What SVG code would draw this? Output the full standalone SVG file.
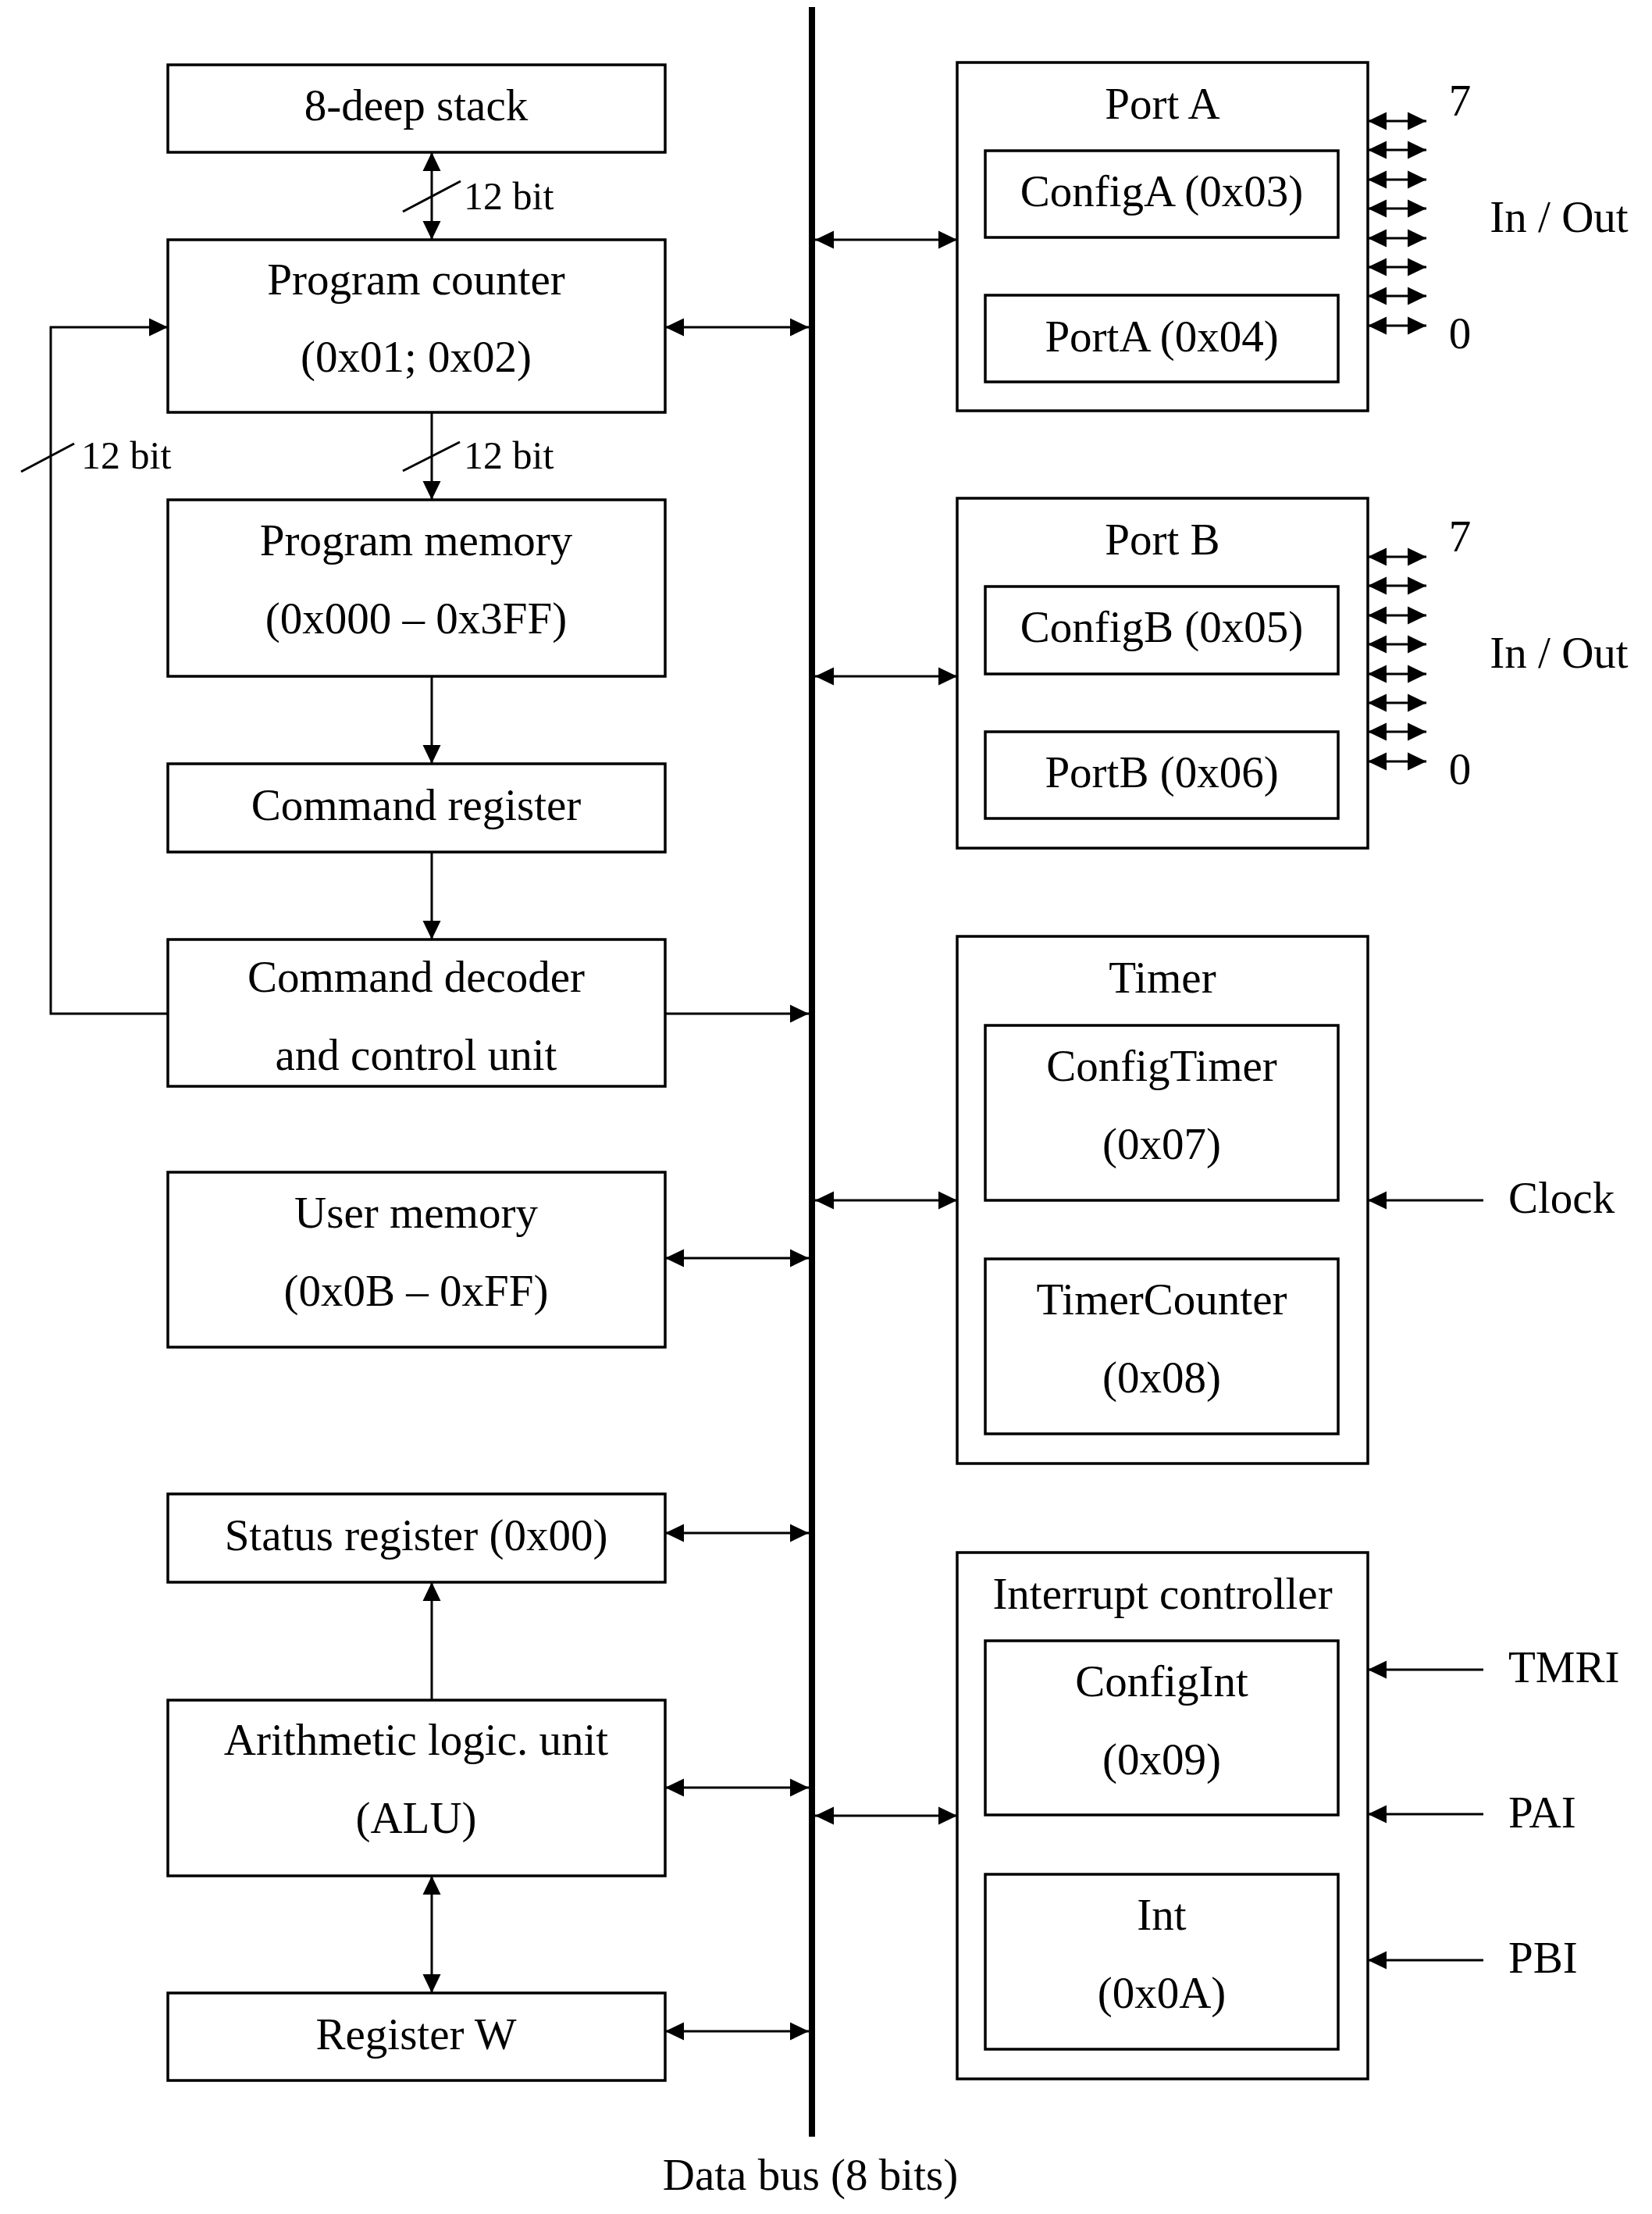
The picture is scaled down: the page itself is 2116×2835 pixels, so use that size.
<svg xmlns="http://www.w3.org/2000/svg" width="2116" height="2835" viewBox="0 0 2116 2835">
<style>
rect.box{fill:none;stroke:#000;stroke-width:3.5}
text{font-family:"Liberation Serif","Times New Roman",serif;font-size:57px;fill:#000}
text.c{text-anchor:middle}
text.s{font-size:50px}
.ln{fill:none;stroke:#000;stroke-width:3}
.bi{marker-start:url(#ah);marker-end:url(#ah)}
.to{marker-end:url(#ah)}
</style>
<defs>
<marker id="ah" markerUnits="userSpaceOnUse" markerWidth="24" markerHeight="24" refX="24" refY="12" orient="auto-start-reverse" viewBox="0 0 24 24">
<path d="M0,0.5 L24,12 L0,23.5 z" fill="#000"/>
</marker>
</defs>
<rect width="2116" height="2835" fill="#fff"/>

<g id="bus">
<line x1="1040" y1="9" x2="1040" y2="2736" stroke="#000" stroke-width="8"/>
<text class="c" x="1038" y="2804">Data bus (8 bits)</text>
</g>

<g id="stack"><rect class="box" x="215" y="83" width="637" height="112"/><text class="c" x="533" y="154">8-deep stack</text></g>
<g id="pc"><rect class="box" x="215" y="307" width="637" height="221"/><text class="c" x="533" y="377">Program counter</text><text class="c" x="533" y="476">(0x01; 0x02)</text></g>
<g id="pm"><rect class="box" x="215" y="640" width="637" height="226"/><text class="c" x="533" y="711">Program memory</text><text class="c" x="533" y="811">(0x000 – 0x3FF)</text></g>
<g id="cr"><rect class="box" x="215" y="978" width="637" height="113"/><text class="c" x="533" y="1050">Command register</text></g>
<g id="dec"><rect class="box" x="215" y="1203" width="637" height="188"/><text class="c" x="533" y="1270">Command decoder</text><text class="c" x="533" y="1370">and control unit</text></g>
<g id="um"><rect class="box" x="215" y="1501" width="637" height="224"/><text class="c" x="533" y="1572">User memory</text><text class="c" x="533" y="1672">(0x0B – 0xFF)</text></g>
<g id="sr"><rect class="box" x="215" y="1913" width="637" height="113"/><text class="c" x="533" y="1985">Status register (0x00)</text></g>
<g id="alu"><rect class="box" x="215" y="2177" width="637" height="225"/><text class="c" x="533" y="2247">Arithmetic logic. unit</text><text class="c" x="533" y="2347">(ALU)</text></g>
<g id="w"><rect class="box" x="215" y="2552" width="637" height="112"/><text class="c" x="533" y="2624">Register W</text></g>

<g id="porta">
<rect class="box" x="1226" y="80" width="526" height="446"/>
<text class="c" x="1489" y="152">Port A</text>
<rect class="box" x="1262" y="193" width="452" height="111"/><text class="c" x="1488" y="264">ConfigA (0x03)</text>
<rect class="box" x="1262" y="378" width="452" height="111"/><text class="c" x="1488" y="450">PortA (0x04)</text>
<text class="c" x="1870" y="148">7</text><text class="c" x="1870" y="446">0</text><text class="c" x="1997" y="297">In / Out</text>
</g>
<g id="portb">
<rect class="box" x="1226" y="638" width="526" height="448"/>
<text class="c" x="1489" y="710">Port B</text>
<rect class="box" x="1262" y="751" width="452" height="112"/><text class="c" x="1488" y="822">ConfigB (0x05)</text>
<rect class="box" x="1262" y="937" width="452" height="111"/><text class="c" x="1488" y="1008">PortB (0x06)</text>
<text class="c" x="1870" y="706">7</text><text class="c" x="1870" y="1004">0</text><text class="c" x="1997" y="855">In / Out</text>
</g>
<g id="timer">
<rect class="box" x="1226" y="1199" width="526" height="675"/>
<text class="c" x="1489" y="1271">Timer</text>
<rect class="box" x="1262" y="1313" width="452" height="224"/><text class="c" x="1488" y="1384">ConfigTimer</text><text class="c" x="1488" y="1484">(0x07)</text>
<rect class="box" x="1262" y="1612" width="452" height="224"/><text class="c" x="1488" y="1683">TimerCounter</text><text class="c" x="1488" y="1783">(0x08)</text>
<text x="1932" y="1553">Clock</text>
</g>
<g id="irq">
<rect class="box" x="1226" y="1988" width="526" height="674"/>
<text class="c" x="1489" y="2060">Interrupt controller</text>
<rect class="box" x="1262" y="2101" width="452" height="223"/><text class="c" x="1488" y="2172">ConfigInt</text><text class="c" x="1488" y="2272">(0x09)</text>
<rect class="box" x="1262" y="2400" width="452" height="224"/><text class="c" x="1488" y="2471">Int</text><text class="c" x="1488" y="2571">(0x0A)</text>
<text x="1932" y="2154">TMRI</text><text x="1932" y="2340">PAI</text><text x="1932" y="2526">PBI</text>
</g>

<g id="connectors">
<line class="ln bi" x1="553" y1="195" x2="553" y2="307"/>
<line class="ln" x1="516" y1="271" x2="590" y2="232"/>
<text class="s" x="594" y="268">12 bit</text>
<line class="ln to" x1="553" y1="528" x2="553" y2="640"/>
<line class="ln" x1="516" y1="603" x2="589" y2="566"/>
<text class="s" x="594" y="600">12 bit</text>
<line class="ln to" x1="553" y1="866" x2="553" y2="978"/>
<line class="ln to" x1="553" y1="1091" x2="553" y2="1203"/>
<path class="ln to" d="M215,1298 H65 V419 H215"/>
<line class="ln" x1="27" y1="604" x2="95" y2="568"/>
<text class="s" x="104" y="600">12 bit</text>
<line class="ln to" x1="553" y1="2177" x2="553" y2="2026"/>
<line class="ln bi" x1="553" y1="2402" x2="553" y2="2552"/>

<line class="ln bi" x1="852" y1="419" x2="1036" y2="419"/>
<line class="ln to" x1="852" y1="1298" x2="1036" y2="1298"/>
<line class="ln bi" x1="852" y1="1611" x2="1036" y2="1611"/>
<line class="ln bi" x1="852" y1="1963" x2="1036" y2="1963"/>
<line class="ln bi" x1="852" y1="2289" x2="1036" y2="2289"/>
<line class="ln bi" x1="852" y1="2601" x2="1036" y2="2601"/>

<line class="ln bi" x1="1044" y1="307" x2="1226" y2="307"/>
<line class="ln bi" x1="1044" y1="866" x2="1226" y2="866"/>
<line class="ln bi" x1="1044" y1="1537" x2="1226" y2="1537"/>
<line class="ln bi" x1="1044" y1="2325" x2="1226" y2="2325"/>

<line class="ln bi" x1="1752" y1="155" x2="1827" y2="155"/>
<line class="ln bi" x1="1752" y1="192" x2="1827" y2="192"/>
<line class="ln bi" x1="1752" y1="230" x2="1827" y2="230"/>
<line class="ln bi" x1="1752" y1="267" x2="1827" y2="267"/>
<line class="ln bi" x1="1752" y1="305" x2="1827" y2="305"/>
<line class="ln bi" x1="1752" y1="342" x2="1827" y2="342"/>
<line class="ln bi" x1="1752" y1="379" x2="1827" y2="379"/>
<line class="ln bi" x1="1752" y1="417" x2="1827" y2="417"/>

<line class="ln bi" x1="1752" y1="713" x2="1827" y2="713"/>
<line class="ln bi" x1="1752" y1="750" x2="1827" y2="750"/>
<line class="ln bi" x1="1752" y1="788" x2="1827" y2="788"/>
<line class="ln bi" x1="1752" y1="825" x2="1827" y2="825"/>
<line class="ln bi" x1="1752" y1="863" x2="1827" y2="863"/>
<line class="ln bi" x1="1752" y1="900" x2="1827" y2="900"/>
<line class="ln bi" x1="1752" y1="937" x2="1827" y2="937"/>
<line class="ln bi" x1="1752" y1="975" x2="1827" y2="975"/>

<line class="ln to" x1="1900" y1="1537" x2="1752" y2="1537"/>
<line class="ln to" x1="1900" y1="2138" x2="1752" y2="2138"/>
<line class="ln to" x1="1900" y1="2323" x2="1752" y2="2323"/>
<line class="ln to" x1="1900" y1="2510" x2="1752" y2="2510"/>
</g>
</svg>
